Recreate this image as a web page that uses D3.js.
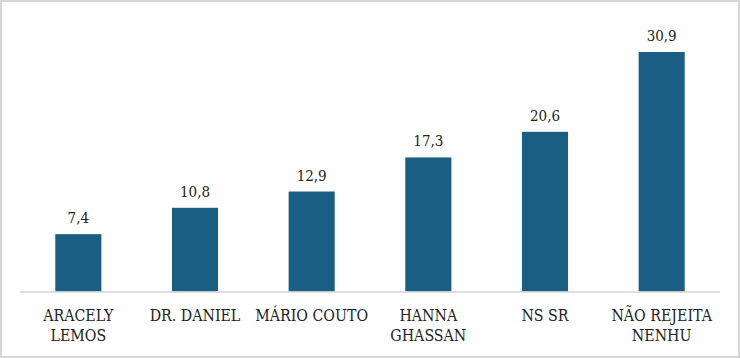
<!DOCTYPE html>
<html><head><meta charset="utf-8">
<script src="https://cdn.jsdelivr.net/npm/d3@7"></script>
<style>body{margin:0;background:#fff}svg{display:block}</style>
</head><body>
<script>
const categories = [["ARACELY","LEMOS"],["DR. DANIEL"],["MÁRIO COUTO"],["HANNA","GHASSAN"],["NS SR"],["NÃO REJEITA","NENHU"]];
const values = [7.4, 10.8, 12.9, 17.3, 20.6, 30.9];
const valueLabels = ["7,4","10,8","12,9","17,3","20,6","30,9"];

const W = 740, H = 358;
const svg = d3.select("body").append("svg").attr("width", W).attr("height", H);
svg.append("rect").attr("x",1).attr("y",1).attr("width",W-2).attr("height",H-2)
  .attr("fill","#fff").attr("stroke","#d6d6d6").attr("stroke-width",2);

const base = 291.5;
const idx = values.map((d,i)=>i);
const x = d3.scaleBand().domain(idx).range([20,720]).paddingInner(0.605).paddingOuter(0.3025);
const y = d3.scaleLinear().domain([0,30.9]).range([base,52]);

svg.selectAll("rect.bar").data(values).join("rect").attr("class","bar")
  .attr("x",(d,i)=>x(i)).attr("width",x.bandwidth())
  .attr("y",d=>y(d)).attr("height",d=>base-y(d)).attr("fill","#1b5e83");

svg.append("line").attr("x1",20).attr("x2",720).attr("y1",base+0.5).attr("y2",base+0.5)
  .attr("stroke","#d4d4d4").attr("stroke-width",1.5);

const font = "'DejaVu Serif Condensed', 'DejaVu Serif', serif";
svg.selectAll("text.val").data(values).join("text").attr("class","val")
  .attr("x",(d,i)=>x(i)+x.bandwidth()/2).attr("y",d=>y(d)-11)
  .attr("text-anchor","middle").attr("font-family",font).attr("font-size",15)
  .attr("fill","#222").text((d,i)=>valueLabels[i]);

const g = svg.selectAll("text.cat").data(categories).join("text").attr("class","cat")
  .attr("x",(d,i)=>x(i)+x.bandwidth()/2).attr("y",321)
  .attr("text-anchor","middle").attr("font-family",font).attr("font-size",15.8).attr("fill","#222");
g.selectAll("tspan").data((d,i)=>d.map(t=>({t,i}))).join("tspan")
  .attr("x",d=>x(d.i)+x.bandwidth()/2).attr("dy",(d,j)=>j===0?0:20).text(d=>d.t);
</script>
</body></html>
